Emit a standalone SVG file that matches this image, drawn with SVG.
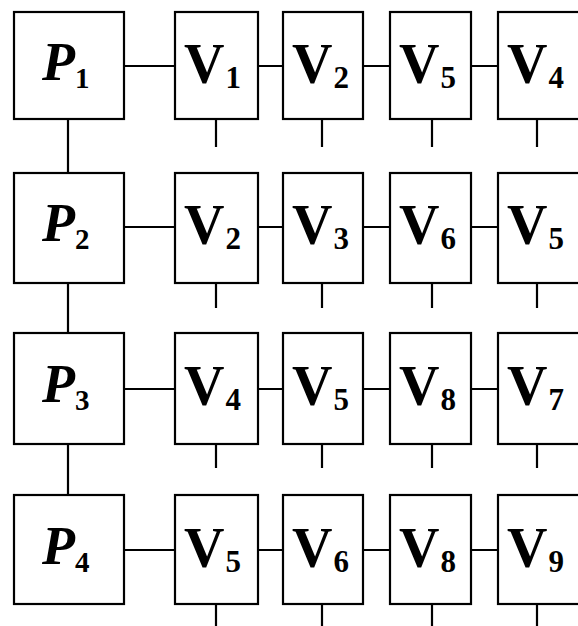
<svg xmlns="http://www.w3.org/2000/svg" width="578" height="626" viewBox="0 0 578 626">
<style>
.box{fill:#fff;stroke:#000;stroke-width:2.2;stroke-linecap:square}
.ln{stroke:#000;stroke-width:2.2;fill:none}
.p{font-family:"Liberation Serif","DejaVu Serif",serif;font-style:italic;font-weight:bold;font-size:54px;fill:#000}
.v{font-family:"Liberation Serif","DejaVu Serif",serif;font-weight:bold;font-size:56px;fill:#000}
.ps{font-style:normal;font-size:29px}
.vs{font-size:31px}
</style>
<rect width="578" height="626" fill="#fff"/>
<g id="connectors">
<path class="ln" d="M68 119V173M68 283V333M68 444V495"/>
<path class="ln" d="M124 66H175M258 66H283M363 66H390M471 66H498"/>
<path class="ln" d="M124 227H175M258 227H283M363 227H390M471 227H498"/>
<path class="ln" d="M124 389H175M258 389H283M363 389H390M471 389H498"/>
<path class="ln" d="M124 550H175M258 550H283M363 550H390M471 550H498"/>
<path class="ln" d="M216 119V147M322 119V147M432 119V147M537 119V147"/>
<path class="ln" d="M216 283V308M322 283V308M432 283V308M537 283V308"/>
<path class="ln" d="M216 444V468M322 444V468M432 444V468M537 444V468"/>
<path class="ln" d="M216 604V626M322 604V626M432 604V626M537 604V626"/>
</g>
<g id="P1"><rect class="box" x="14" y="12" width="110" height="107"/><text class="p" x="42" y="80">P<tspan class="ps" dx="0" dy="8">1</tspan></text></g>
<g id="r1c1"><rect class="box" x="175" y="12" width="83" height="107"/><text class="v" x="184" y="83">V<tspan class="vs" dx="1" dy="5">1</tspan></text></g>
<g id="r1c2"><rect class="box" x="283" y="12" width="80" height="107"/><text class="v" x="292" y="83">V<tspan class="vs" dx="1" dy="5">2</tspan></text></g>
<g id="r1c3"><rect class="box" x="390" y="12" width="81" height="107"/><text class="v" x="399" y="83">V<tspan class="vs" dx="1" dy="5">5</tspan></text></g>
<g id="r1c4"><rect class="box" x="498" y="12" width="84" height="107"/><text class="v" x="507" y="83">V<tspan class="vs" dx="1" dy="5">4</tspan></text></g>

<g id="P2"><rect class="box" x="14" y="173" width="110" height="110"/><text class="p" x="42" y="241">P<tspan class="ps" dy="8">2</tspan></text></g>
<g id="r2c1"><rect class="box" x="175" y="173" width="83" height="110"/><text class="v" x="184" y="244">V<tspan class="vs" dx="1" dy="5">2</tspan></text></g>
<g id="r2c2"><rect class="box" x="283" y="173" width="80" height="110"/><text class="v" x="292" y="244">V<tspan class="vs" dx="1" dy="5">3</tspan></text></g>
<g id="r2c3"><rect class="box" x="390" y="173" width="81" height="110"/><text class="v" x="399" y="244">V<tspan class="vs" dx="1" dy="5">6</tspan></text></g>
<g id="r2c4"><rect class="box" x="498" y="173" width="84" height="110"/><text class="v" x="507" y="244">V<tspan class="vs" dx="1" dy="5">5</tspan></text></g>

<g id="P3"><rect class="box" x="14" y="333" width="110" height="111"/><text class="p" x="42" y="402">P<tspan class="ps" dy="8">3</tspan></text></g>
<g id="r3c1"><rect class="box" x="175" y="333" width="83" height="111"/><text class="v" x="184" y="405">V<tspan class="vs" dx="1" dy="5">4</tspan></text></g>
<g id="r3c2"><rect class="box" x="283" y="333" width="80" height="111"/><text class="v" x="292" y="405">V<tspan class="vs" dx="1" dy="5">5</tspan></text></g>
<g id="r3c3"><rect class="box" x="390" y="333" width="81" height="111"/><text class="v" x="399" y="405">V<tspan class="vs" dx="1" dy="5">8</tspan></text></g>
<g id="r3c4"><rect class="box" x="498" y="333" width="84" height="111"/><text class="v" x="507" y="405">V<tspan class="vs" dx="1" dy="5">7</tspan></text></g>

<g id="P4"><rect class="box" x="14" y="495" width="110" height="109"/><text class="p" x="42" y="564">P<tspan class="ps" dy="8">4</tspan></text></g>
<g id="r4c1"><rect class="box" x="175" y="495" width="83" height="109"/><text class="v" x="184" y="567">V<tspan class="vs" dx="1" dy="5">5</tspan></text></g>
<g id="r4c2"><rect class="box" x="283" y="495" width="80" height="109"/><text class="v" x="292" y="567">V<tspan class="vs" dx="1" dy="5">6</tspan></text></g>
<g id="r4c3"><rect class="box" x="390" y="495" width="81" height="109"/><text class="v" x="399" y="567">V<tspan class="vs" dx="1" dy="5">8</tspan></text></g>
<g id="r4c4"><rect class="box" x="498" y="495" width="84" height="109"/><text class="v" x="507" y="567">V<tspan class="vs" dx="1" dy="5">9</tspan></text></g>
</svg>
